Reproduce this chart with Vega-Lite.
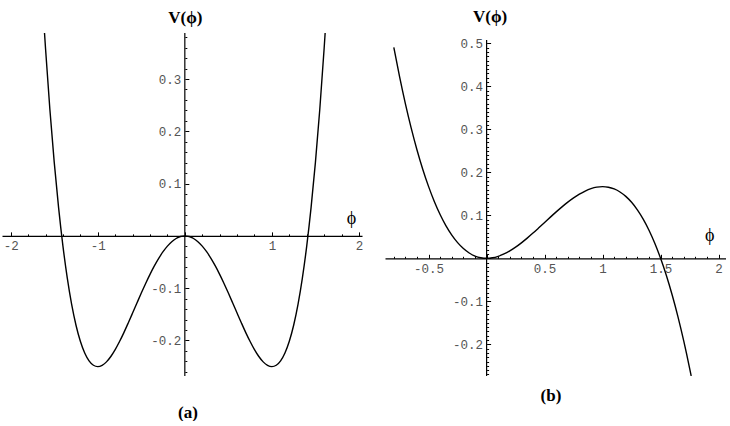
{
  "$schema": "https://vega.github.io/schema/vega-lite/v6.json",
  "background": "white",
  "padding": {"left": 2, "top": 7, "right": 0, "bottom": 0},
  "config": {"view": {"stroke": null}, "axis": {"grid": false, "labelOverlap": false, "labelFlush": false}},
  "spacing": 23,
  "bounds": "flush",
  "hconcat": [
    {
      "width": 360,
      "height": 343,
      "title": {"text": "(a)", "orient": "bottom", "frame": "group", "anchor": "middle", "offset": 28, "dx": 6, "font": "Liberation Serif", "fontSize": 17, "fontWeight": "bold", "color": "#000"},
      "resolve": {"axis": {"x": "independent", "y": "independent"}},
      "layer": [
        {
          "data": {"values": [
            {"phi": -1.6117, "V": 0.388}, {"phi": -1.6, "V": 0.3584}, {"phi": -1.55, "V": 0.2418}, {"phi": -1.5, "V": 0.1406},
            {"phi": -1.45, "V": 0.0539}, {"phi": -1.4, "V": -0.0196}, {"phi": -1.35, "V": -0.0809}, {"phi": -1.3, "V": -0.131},
            {"phi": -1.25, "V": -0.1709}, {"phi": -1.2, "V": -0.2016}, {"phi": -1.15, "V": -0.224}, {"phi": -1.1, "V": -0.239},
            {"phi": -1.05, "V": -0.2474}, {"phi": -1, "V": -0.25}, {"phi": -0.95, "V": -0.2476}, {"phi": -0.9, "V": -0.241},
            {"phi": -0.85, "V": -0.2307}, {"phi": -0.8, "V": -0.2176}, {"phi": -0.75, "V": -0.2021}, {"phi": -0.7, "V": -0.185},
            {"phi": -0.65, "V": -0.1666}, {"phi": -0.6, "V": -0.1476}, {"phi": -0.55, "V": -0.1284}, {"phi": -0.5, "V": -0.1094},
            {"phi": -0.45, "V": -0.091}, {"phi": -0.4, "V": -0.0736}, {"phi": -0.35, "V": -0.0575}, {"phi": -0.3, "V": -0.043},
            {"phi": -0.25, "V": -0.0303}, {"phi": -0.2, "V": -0.0196}, {"phi": -0.15, "V": -0.0111}, {"phi": -0.1, "V": -0.005},
            {"phi": -0.05, "V": -0.0012}, {"phi": 0, "V": 0},
            {"phi": 0.05, "V": -0.0012}, {"phi": 0.1, "V": -0.005}, {"phi": 0.15, "V": -0.0111}, {"phi": 0.2, "V": -0.0196},
            {"phi": 0.25, "V": -0.0303}, {"phi": 0.3, "V": -0.043}, {"phi": 0.35, "V": -0.0575}, {"phi": 0.4, "V": -0.0736},
            {"phi": 0.45, "V": -0.091}, {"phi": 0.5, "V": -0.1094}, {"phi": 0.55, "V": -0.1284}, {"phi": 0.6, "V": -0.1476},
            {"phi": 0.65, "V": -0.1666}, {"phi": 0.7, "V": -0.185}, {"phi": 0.75, "V": -0.2021}, {"phi": 0.8, "V": -0.2176},
            {"phi": 0.85, "V": -0.2307}, {"phi": 0.9, "V": -0.241}, {"phi": 0.95, "V": -0.2476}, {"phi": 1, "V": -0.25},
            {"phi": 1.05, "V": -0.2474}, {"phi": 1.1, "V": -0.239}, {"phi": 1.15, "V": -0.224}, {"phi": 1.2, "V": -0.2016},
            {"phi": 1.25, "V": -0.1709}, {"phi": 1.3, "V": -0.131}, {"phi": 1.35, "V": -0.0809}, {"phi": 1.4, "V": -0.0196},
            {"phi": 1.45, "V": 0.0539}, {"phi": 1.5, "V": 0.1406}, {"phi": 1.55, "V": 0.2418}, {"phi": 1.6, "V": 0.3584},
            {"phi": 1.6117, "V": 0.388}
          ]},
          "mark": {"type": "line", "color": "#000", "strokeWidth": 1.4, "clip": true, "interpolate": "monotone"},
          "encoding": {
            "x": {"field": "phi", "type": "quantitative", "scale": {"domain": [-2.1, 2.035], "nice": false, "zero": false},
              "axis": {"orient": "bottom", "offset": -140.13, "values": [-2, -1, 1, 2], "ticks": false, "domain": true, "domainColor": "#000", "domainWidth": 1.2,
                "labelFont": "Liberation Mono", "labelFontSize": 12.5, "labelColor": "#555", "labelPadding": 4, "labelExpr": "toString(datum.value)", "title": null}},
            "y": {"field": "V", "type": "quantitative", "scale": {"domain": [-0.268, 0.388], "nice": false, "zero": false},
              "axis": {"orient": "left", "offset": -182.83, "values": [-0.2, -0.1, 0.1, 0.2, 0.3], "ticks": false, "domain": false,
                "labelFont": "Liberation Mono", "labelFontSize": 12.5, "labelColor": "#555", "labelPadding": 4, "labelExpr": "toString(datum.value)",
                "title": "V(ϕ)", "titleAngle": 0, "titleX": 0, "titleY": -15.5, "titleAlign": "center", "titleBaseline": "middle",
                "titleFont": "Liberation Serif", "titleFontSize": 17, "titleFontWeight": "bold", "titleColor": "#000"}}
          }
        },
        {
          "data": {"values": [{"axis": "vertical"}]},
          "mark": {"type": "rule", "color": "#000", "strokeWidth": 1.2},
          "encoding": {
            "x": {"datum": 0, "type": "quantitative",
              "axis": {"orient": "top", "offset": -202.87, "values": [-2, -1.8, -1.6, -1.4, -1.2, -1, -0.8, -0.6, -0.4, -0.2, 0, 0.2, 0.4, 0.6, 0.8, 1, 1.2, 1.4, 1.6, 1.8, 2],
                "ticks": true, "tickColor": "#000", "tickWidth": 1,
                "tickSize": {"condition": {"test": "abs(datum.value - round(datum.value)) < 0.001", "value": 4}, "value": 2},
                "labels": false, "domain": false,
                "title": "ϕ", "titleX": 349, "titleY": -17.5, "titleAngle": 0, "titleAlign": "center", "titleBaseline": "middle",
                "titleFont": "Liberation Serif", "titleFontSize": 18, "titleFontWeight": "normal", "titleColor": "#000"}},
            "y": {"datum": -0.268, "type": "quantitative",
              "axis": {"orient": "right", "offset": -177.17,
                "values": [-0.26, -0.24, -0.22, -0.2, -0.18, -0.16, -0.14, -0.12, -0.1, -0.08, -0.06, -0.04, -0.02, 0, 0.02, 0.04, 0.06, 0.08, 0.1, 0.12, 0.14, 0.16, 0.18, 0.2, 0.22, 0.24, 0.26, 0.28, 0.3, 0.32, 0.34, 0.36, 0.38],
                "ticks": true, "tickColor": "#000", "tickWidth": 1,
                "tickSize": {"condition": {"test": "abs(datum.value * 10 - round(datum.value * 10)) < 0.001", "value": 4}, "value": 2},
                "labels": false, "domain": false, "title": null}},
            "y2": {"datum": 0.388}
          }
        }
      ]
    },
    {
      "width": 341,
      "height": 343,
      "title": {"text": "(b)", "orient": "bottom", "frame": "group", "anchor": "middle", "offset": 11, "dx": -4.5, "font": "Liberation Serif", "fontSize": 17, "fontWeight": "bold", "color": "#000"},
      "resolve": {"axis": {"x": "independent", "y": "independent"}},
      "layer": [
        {
          "data": {"values": [
            {"phi": -0.8, "V": 0.4907}, {"phi": -0.75, "V": 0.4219}, {"phi": -0.7, "V": 0.3593}, {"phi": -0.65, "V": 0.3028},
            {"phi": -0.6, "V": 0.252}, {"phi": -0.55, "V": 0.2067}, {"phi": -0.5, "V": 0.1667}, {"phi": -0.45, "V": 0.1316},
            {"phi": -0.4, "V": 0.1013}, {"phi": -0.35, "V": 0.0755}, {"phi": -0.3, "V": 0.054}, {"phi": -0.25, "V": 0.0365},
            {"phi": -0.2, "V": 0.0227}, {"phi": -0.15, "V": 0.0124}, {"phi": -0.1, "V": 0.0053}, {"phi": -0.05, "V": 0.0013},
            {"phi": 0, "V": 0}, {"phi": 0.05, "V": 0.0012}, {"phi": 0.1, "V": 0.0047}, {"phi": 0.15, "V": 0.0101},
            {"phi": 0.2, "V": 0.0173}, {"phi": 0.25, "V": 0.026}, {"phi": 0.3, "V": 0.036}, {"phi": 0.35, "V": 0.047},
            {"phi": 0.4, "V": 0.0587}, {"phi": 0.45, "V": 0.0709}, {"phi": 0.5, "V": 0.0833}, {"phi": 0.55, "V": 0.0958},
            {"phi": 0.6, "V": 0.108}, {"phi": 0.65, "V": 0.1197}, {"phi": 0.7, "V": 0.1307}, {"phi": 0.75, "V": 0.1406},
            {"phi": 0.8, "V": 0.1493}, {"phi": 0.85, "V": 0.1565}, {"phi": 0.9, "V": 0.162}, {"phi": 0.95, "V": 0.1655},
            {"phi": 1, "V": 0.1667}, {"phi": 1.05, "V": 0.1654}, {"phi": 1.1, "V": 0.1613}, {"phi": 1.15, "V": 0.1543},
            {"phi": 1.2, "V": 0.144}, {"phi": 1.25, "V": 0.1302}, {"phi": 1.3, "V": 0.1127}, {"phi": 1.35, "V": 0.0911},
            {"phi": 1.4, "V": 0.0653}, {"phi": 1.45, "V": 0.035}, {"phi": 1.5, "V": 0}, {"phi": 1.55, "V": -0.04},
            {"phi": 1.6, "V": -0.0853}, {"phi": 1.65, "V": -0.1361}, {"phi": 1.7, "V": -0.1927}, {"phi": 1.75, "V": -0.2552},
            {"phi": 1.764, "V": -0.2737}
          ]},
          "mark": {"type": "line", "color": "#000", "strokeWidth": 1.4, "clip": true, "interpolate": "monotone"},
          "encoding": {
            "x": {"field": "phi", "type": "quantitative", "scale": {"domain": [-0.876, 2.064], "nice": false, "zero": false},
              "axis": {"orient": "bottom", "offset": -117.69, "values": [-0.5, 0.5, 1, 1.5, 2], "ticks": false, "domain": true, "domainColor": "#000", "domainWidth": 1.2,
                "labelFont": "Liberation Mono", "labelFontSize": 12.5, "labelColor": "#555", "labelPadding": 4, "labelExpr": "toString(datum.value)", "title": null}},
            "y": {"field": "V", "type": "quantitative", "scale": {"domain": [-0.2737, 0.524], "nice": false, "zero": false},
              "axis": {"orient": "left", "offset": -101.6, "values": [-0.2, -0.1, 0.1, 0.2, 0.3, 0.4, 0.5], "ticks": false, "domain": false,
                "labelFont": "Liberation Mono", "labelFontSize": 12.5, "labelColor": "#555", "labelPadding": 4, "labelExpr": "toString(datum.value)",
                "title": "V(ϕ)", "titleAngle": 0, "titleX": 3, "titleY": -17, "titleAlign": "center", "titleBaseline": "middle",
                "titleFont": "Liberation Serif", "titleFontSize": 17, "titleFontWeight": "bold", "titleColor": "#000"}}
          }
        },
        {
          "data": {"values": [{"axis": "vertical"}]},
          "mark": {"type": "rule", "color": "#000", "strokeWidth": 1.2},
          "encoding": {
            "x": {"datum": 0, "type": "quantitative",
              "axis": {"orient": "top", "offset": -225.31,
                "values": [-0.8, -0.7, -0.6, -0.5, -0.4, -0.3, -0.2, -0.1, 0, 0.1, 0.2, 0.3, 0.4, 0.5, 0.6, 0.7, 0.8, 0.9, 1, 1.1, 1.2, 1.3, 1.4, 1.5, 1.6, 1.7, 1.8, 1.9, 2],
                "ticks": true, "tickColor": "#000", "tickWidth": 1,
                "tickSize": {"condition": {"test": "abs(datum.value * 2 - round(datum.value * 2)) < 0.001", "value": 4}, "value": 2},
                "labels": false, "domain": false,
                "title": "ϕ", "titleX": 324.3, "titleY": -22.8, "titleAngle": 0, "titleAlign": "center", "titleBaseline": "middle",
                "titleFont": "Liberation Serif", "titleFontSize": 18, "titleFontWeight": "normal", "titleColor": "#000"}},
            "y": {"datum": -0.2737, "type": "quantitative",
              "axis": {"orient": "right", "offset": -239.4,
                "values": [-0.27, -0.26, -0.25, -0.24, -0.23, -0.22, -0.21, -0.2, -0.19, -0.18, -0.17, -0.16, -0.15, -0.14, -0.13, -0.12, -0.11, -0.1, -0.09, -0.08, -0.07, -0.06, -0.05, -0.04, -0.03, -0.02, -0.01, 0, 0.01, 0.02, 0.03, 0.04, 0.05, 0.06, 0.07, 0.08, 0.09, 0.1, 0.11, 0.12, 0.13, 0.14, 0.15, 0.16, 0.17, 0.18, 0.19, 0.2, 0.21, 0.22, 0.23, 0.24, 0.25, 0.26, 0.27, 0.28, 0.29, 0.3, 0.31, 0.32, 0.33, 0.34, 0.35, 0.36, 0.37, 0.38, 0.39, 0.4, 0.41, 0.42, 0.43, 0.44, 0.45, 0.46, 0.47, 0.48, 0.49, 0.5],
                "ticks": true, "tickColor": "#000", "tickWidth": 1,
                "tickSize": {"condition": {"test": "abs(datum.value * 10 - round(datum.value * 10)) < 0.001", "value": 4}, "value": 2},
                "labels": false, "domain": false, "title": null}},
            "y2": {"datum": 0.5077}
          }
        }
      ]
    }
  ]
}
